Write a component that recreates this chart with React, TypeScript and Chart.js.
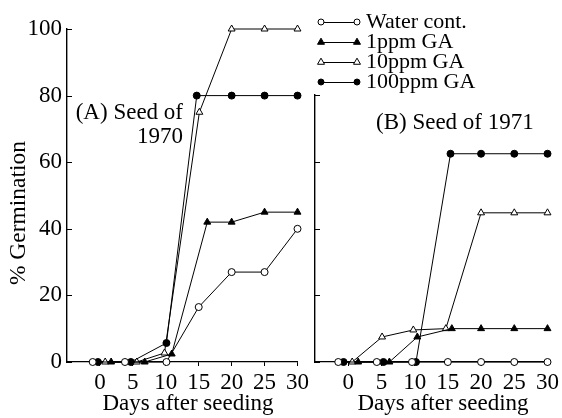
import { useEffect, useRef } from 'react';
import { Chart, registerables } from 'chart.js';

Chart.register(...registerables);

const FONT = '"Liberation Serif", "Times New Roman", serif';

const seriesNames = ['Water cont.', '1ppm GA', '10ppm GA', '100ppm GA'];

// (A) Seed of 1970 — days are staggered slightly where points coincide
const daysA_water = [-1.1, 3.8, 10.1, 15, 20, 25, 30];
const germA_water = [0, 0, 0, 16.5, 27, 27, 40];
const daysA_ga1 = [1.7, 6.8, 10.9, 16.3, 20, 25, 30];
const germA_ga1 = [0, 0, 2.4, 42, 42, 45, 45];
const daysA_ga10 = [0.8, 5.6, 9.8, 15.1, 20, 25, 30];
const germA_ga10 = [0, 0, 2.7, 75, 100, 100, 100];
const daysA_ga100 = [-0.3, 4.7, 10.1, 14.7, 20, 25, 30];
const germA_ga100 = [0, 0, 5.7, 80, 80, 80, 80];

// (B) Seed of 1971
const daysB_water = [-1.5, 4.3, 9.6, 15, 20, 25, 30];
const germB_water = [0, 0, 0, 0, 0, 0, 0];
const daysB_ga1 = [1.5, 6.2, 10.4, 15.6, 20, 25, 30];
const germB_ga1 = [0, 0, 7.5, 10, 10, 10, 10];
const daysB_ga10 = [0.6, 5.1, 9.8, 14.7, 20, 25, 30];
const germB_ga10 = [0, 7.5, 9.6, 10, 44.7, 44.7, 44.7];
const daysB_ga100 = [-0.7, 5.3, 10.2, 15.4, 20, 25, 30];
const germB_ga100 = [0, 0, 0, 62.4, 62.4, 62.4, 62.4];

const xTicks = [0, 5, 10, 15, 20, 25, 30];
const yTicksA = [0, 20, 40, 60, 80, 100];
const yTicksB = [0, 20, 40, 60, 80];

const xTitle = 'Days after seeding';
const yTitle = '% Germination';

type MarkerStyle = { shape: 'circle' | 'triangle'; fill: string };
const markers: MarkerStyle[] = [
  { shape: 'circle', fill: '#fff' },
  { shape: 'triangle', fill: '#000' },
  { shape: 'triangle', fill: '#fff' },
  { shape: 'circle', fill: '#000' },
];

function pairs(xs: number[], ys: number[]) {
  return xs.map((x, i) => ({ x, y: ys[i] }));
}

function makeDatasets(days: number[][], germ: number[][]) {
  return days.map((d, i) => ({
    label: seriesNames[i],
    data: pairs(d, germ[i]),
    borderColor: '#000',
    borderWidth: 1,
    pointStyle: markers[i].shape,
    pointRadius: markers[i].shape === 'triangle' ? 4 : 3.5,
    pointBackgroundColor: markers[i].fill,
    pointBorderColor: '#000',
    pointBorderWidth: 1,
    tension: 0,
    clip: false as const,
  }));
}

function drawMarker(ctx: CanvasRenderingContext2D, m: MarkerStyle, x: number, y: number, r: number) {
  ctx.beginPath();
  if (m.shape === 'circle') {
    ctx.arc(x, y, r, 0, Math.PI * 2);
  } else {
    ctx.moveTo(x, y - r * 1.1);
    ctx.lineTo(x + r, y + r * 0.65);
    ctx.lineTo(x - r, y + r * 0.65);
    ctx.closePath();
  }
  ctx.fillStyle = m.fill;
  ctx.fill();
  ctx.stroke();
}

type Note = { text: string; x: number; y: number; align: CanvasTextAlign };

function overlayPlugin(notes: Note[], withLegend: boolean, xTitleX: number, showYTitle: boolean) {
  return {
    id: 'overlay',
    afterDraw(chart: Chart) {
      const ctx = chart.ctx;
      const ys = chart.scales.y;
      const left = chart.chartArea.left;
      ctx.save();
      // inward tick marks on the vertical axis
      ctx.strokeStyle = '#000';
      ctx.lineWidth = 1;
      ys.ticks.forEach((t) => {
        const py = Math.round(ys.getPixelForValue(t.value)) + 0.5;
        ctx.beginPath();
        ctx.moveTo(left, py);
        ctx.lineTo(left + 5, py);
        ctx.stroke();
      });
      ctx.fillStyle = '#000';
      ctx.textBaseline = 'middle';
      ctx.font = `23px ${FONT}`;
      notes.forEach((n) => {
        ctx.textAlign = n.align;
        ctx.fillText(n.text, n.x, n.y);
      });
      // axis titles
      ctx.textAlign = 'center';
      ctx.fillText(xTitle, xTitleX, 404);
      if (showYTitle) {
        ctx.save();
        ctx.translate(19, 213);
        ctx.rotate(-Math.PI / 2);
        ctx.font = `23.5px ${FONT}`;
        ctx.fillText(yTitle, 0, 0);
        ctx.restore();
      }
      if (withLegend) {
        ctx.font = `22px ${FONT}`;
        ctx.textAlign = 'left';
        seriesNames.forEach((name, i) => {
          const y = 22 + i * 20;
          ctx.strokeStyle = '#000';
          ctx.lineWidth = 1;
          ctx.beginPath();
          ctx.moveTo(21, y + 0.5);
          ctx.lineTo(57, y + 0.5);
          ctx.stroke();
          const r = markers[i].shape === 'triangle' ? 3.5 : 3;
          drawMarker(ctx, markers[i], 21, y, r);
          drawMarker(ctx, markers[i], 57, y, r);
          ctx.fillStyle = '#000';
          ctx.fillText(name, 66, y);
        });
      }
      ctx.restore();
    },
  };
}

function buildConfig(p: {
  days: number[][];
  germ: number[][];
  yMax: number;
  yTicks: number[];
  yLabels: boolean;
  yWidth: number;
  padTop: number;
  notes: Note[];
  legend: boolean;
  xTitleX: number;
}) {
  const tickFont = { family: FONT, size: 23 };
  return {
    type: 'line' as const,
    data: { datasets: makeDatasets(p.days, p.germ) },
    options: {
      responsive: false,
      animation: false as const,
      layout: { padding: { top: p.padTop, right: 14, left: 0, bottom: 0 } },
      plugins: { legend: { display: false }, tooltip: { enabled: false } },
      scales: {
        x: {
          type: 'linear' as const,
          min: -5,
          max: 30,
          afterBuildTicks: (s: any) => {
            s.ticks = xTicks.map((v) => ({ value: v }));
          },
          afterFit: (s: any) => {
            s.height = 56;
          },
          grid: { display: true, drawOnChartArea: false, drawTicks: true, tickLength: 4, color: '#000', lineWidth: 1 },
          border: { display: true, color: '#000', width: 1.2 },
          ticks: { color: '#000', font: tickFont, padding: 3, maxRotation: 0, autoSkip: false },
          title: { display: false },
        },
        y: {
          type: 'linear' as const,
          min: 0,
          max: p.yMax,
          afterBuildTicks: (s: any) => {
            s.ticks = p.yTicks.map((v) => ({ value: v }));
          },
          afterFit: (s: any) => {
            s.width = p.yWidth;
          },
          grid: { display: false, drawTicks: false },
          border: { display: true, color: '#000', width: 1.4 },
          ticks: { display: p.yLabels, color: '#000', font: tickFont, padding: 5 },
          title: { display: false },
        },
      },
    },
    plugins: [overlayPlugin(p.notes, p.legend, p.xTitleX, p.yLabels)],
  };
}

function Panel({ config, left, width }: { config: any; left: number; width: number }) {
  const ref = useRef<HTMLCanvasElement | null>(null);
  useEffect(() => {
    if (!ref.current) return;
    const chart = new Chart(ref.current, config);
    return () => chart.destroy();
  }, [config]);
  return (
    <canvas
      ref={ref}
      width={width}
      height={418}
      style={{ position: 'absolute', left, top: 0, width, height: 418 }}
    />
  );
}

const configA = buildConfig({
  days: [daysA_water, daysA_ga1, daysA_ga10, daysA_ga100],
  germ: [germA_water, germA_ga1, germA_ga10, germA_ga100],
  yMax: 100,
  yTicks: yTicksA,
  yLabels: true,
  yWidth: 67,
  padTop: 29,
  notes: [
    { text: '(A) Seed of', x: 183, y: 113, align: 'right' },
    { text: '1970', x: 183, y: 137, align: 'right' },
  ],
  legend: false,
  xTitleX: 188,
});

const configB = buildConfig({
  days: [daysB_water, daysB_ga1, daysB_ga10, daysB_ga100],
  germ: [germB_water, germB_ga1, germB_ga10, germB_ga100],
  yMax: 80,
  yTicks: yTicksB,
  yLabels: false,
  yWidth: 15,
  padTop: 95,
  notes: [{ text: '(B) Seed of 1971', x: 76, y: 123, align: 'left' }],
  legend: true,
  xTitleX: 143,
});

export default function App() {
  return (
    <div style={{ position: 'fixed', left: 0, top: 0, width: 562, height: 418, background: '#fff' }}>
      <Panel config={configA} left={0} width={312} />
      <Panel config={configB} left={300} width={262} />
    </div>
  );
}
